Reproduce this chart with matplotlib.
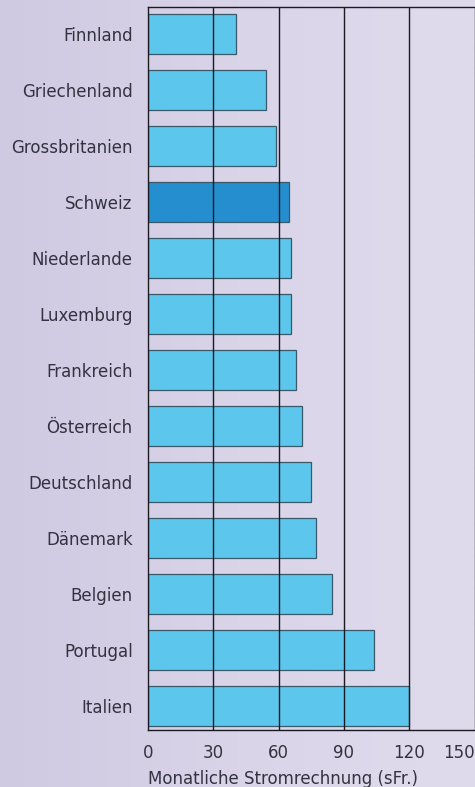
import numpy as np
import matplotlib.pyplot as plt
from matplotlib.colors import LinearSegmentedColormap

laender = ["Finnland", "Griechenland", "Grossbritanien", "Schweiz", "Niederlande",
           "Luxemburg", "Frankreich", "Österreich", "Deutschland", "Dänemark",
           "Belgien", "Portugal", "Italien"]
rechnung = [40.3, 54.3, 59.0, 65.0, 65.8, 65.8, 68.0, 70.7, 74.8, 77.4, 84.7, 103.7, 120.0]
xticks = [0, 30, 60, 90, 120, 150]

hell = "#5cc6ec"
dunkel = "#248ecf"
textcol = "#33333f"

fig = plt.figure(figsize=(4.75, 7.87), dpi=100)

# leichter Verlauf im Hintergrund (links etwas dunkler)
bgax = fig.add_axes([0, 0, 1, 1], zorder=-1)
cmap = LinearSegmentedColormap.from_list("bg", ["#cfc9e2", "#d9d4e8", "#e0dbec"])
bgax.imshow(np.linspace(0, 1, 256)[None, :], aspect="auto", cmap=cmap, extent=[0, 1, 0, 1])
bgax.axis("off")

ax = fig.add_axes([148 / 475, 57 / 787, 326.5 / 475, 723 / 787])
ax.patch.set_alpha(0)

y = np.arange(len(laender))
farben = [dunkel if l == "Schweiz" else hell for l in laender]
ax.barh(y, rechnung, height=0.71, color=farben, edgecolor="#3a5a6c", linewidth=0.9, zorder=2)

for t in xticks[1:-1]:
    ax.axvline(t, color="#1a1a22", linewidth=1.0, zorder=3)

ax.set_xlim(0, 150)
ax.set_ylim(len(laender) - 1 + 0.43, -0.48)
ax.set_yticks(y)
ax.set_yticklabels(laender, fontsize=12, color=textcol)
ax.set_xticks(xticks)
ax.set_xticklabels([str(t) for t in xticks], fontsize=12, color=textcol)
ax.get_xticklabels()[-1].set_horizontalalignment("right")
ax.tick_params(axis="y", length=0, pad=11)
ax.tick_params(axis="x", length=0, pad=10)

for s in ax.spines.values():
    s.set_color("#1a1a22")
    s.set_linewidth(1.0)

ax.set_xlabel("Monatliche Stromrechnung (sFr.)", fontsize=12, color=textcol, loc="left", labelpad=6)

fig.savefig("out.png", dpi=100)
